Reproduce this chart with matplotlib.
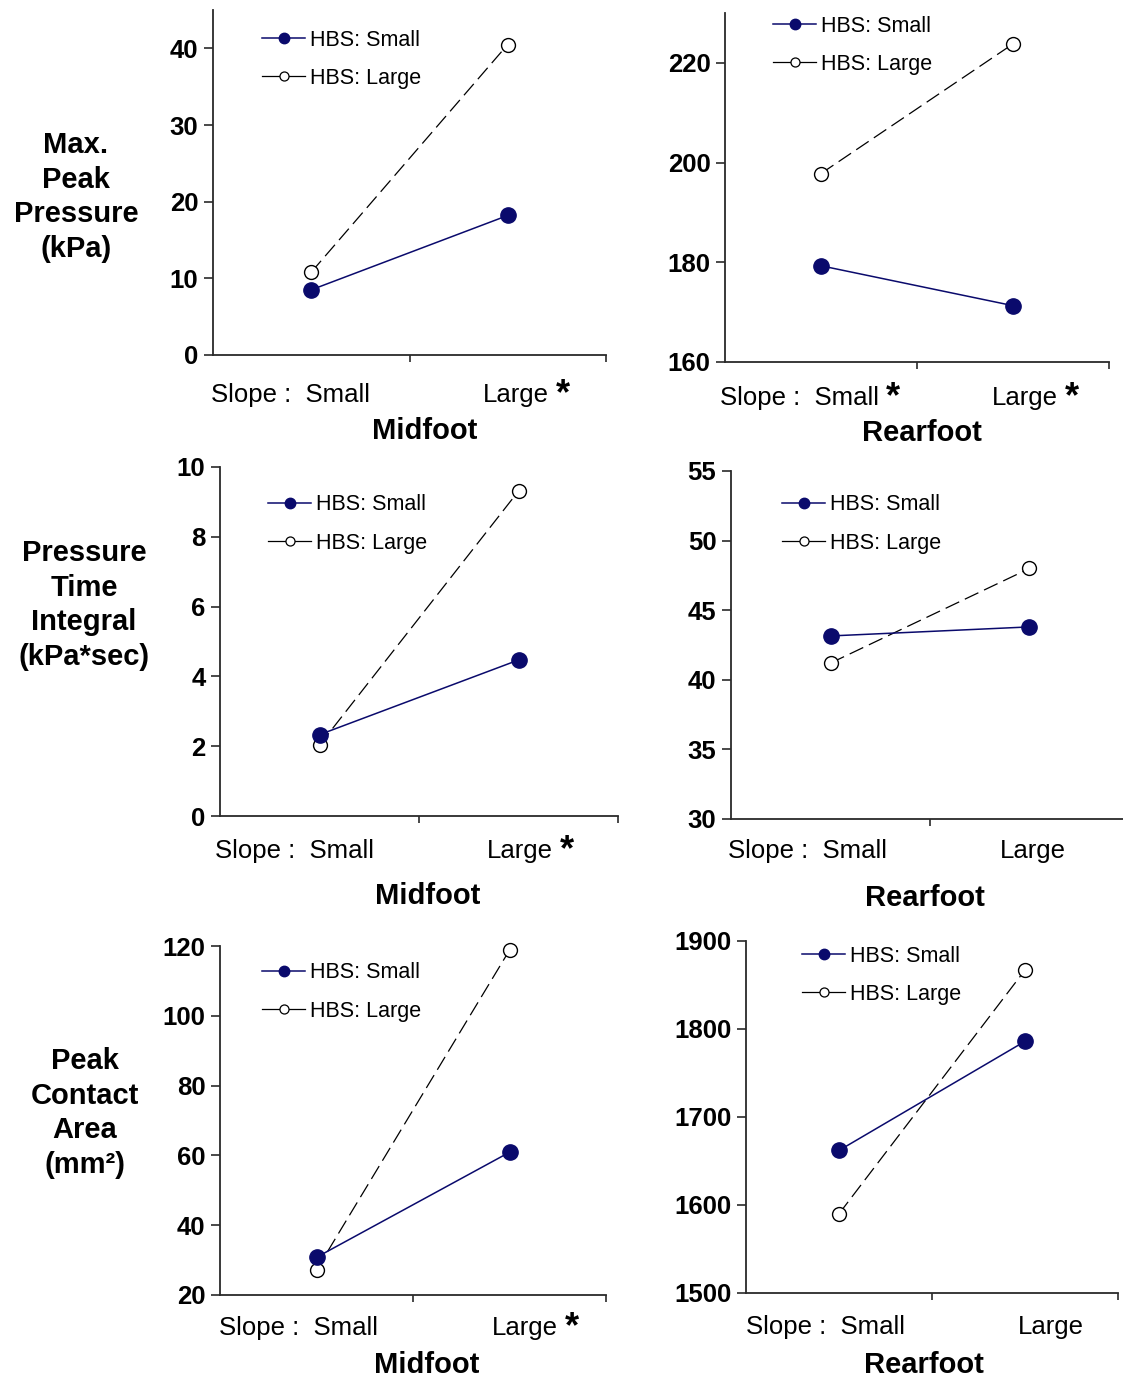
import matplotlib
matplotlib.use('Agg')
import matplotlib.pyplot as plt
from matplotlib.lines import Line2D

plt.rcParams['font.family'] = ['Liberation Sans', 'DejaVu Sans']

# figure size in pixels (dpi 100)
W, H = 1123, 1377

# ---- data: values for [slope Small, slope Large] ----
slope_cats = ['Small', 'Large']
series_names = ['HBS: Small', 'HBS: Large']

mid_peak_small = [8.5, 18.2]
mid_peak_large = [10.8, 40.5]
rear_peak_small = [179.3, 171.3]
rear_peak_large = [197.8, 223.8]

mid_pti_small = [2.33, 4.47]
mid_pti_large = [2.03, 9.31]
rear_pti_small = [43.15, 43.8]
rear_pti_large = [41.2, 48.0]

mid_area_small = [30.8, 60.9]
mid_area_large = [27.2, 118.8]
rear_area_small = [1662, 1786]
rear_area_large = [1590, 1867]

# significant slope effect (asterisk) per category
mid_peak_sig = [False, True]
rear_peak_sig = [True, True]
mid_pti_sig = [False, True]
rear_pti_sig = [False, False]
mid_area_sig = [False, True]
rear_area_sig = [False, False]

row_labels = ['Max.\nPeak\nPressure\n(kPa)',
              'Pressure\nTime\nIntegral\n(kPa*sec)',
              'Peak\nContact\nArea\n(mm²)']
row_label_pos = [(76, 197), (84, 605), (85, 1113)]

NAVY = '#0a0a6c'


def fx(px):
    return px / W


def fy(py):
    return 1 - py / H


# layout per panel: axes box (left, top, right, bottom) px, y range, ticks,
# legend anchor px, slope label left px, "Large" centre px, label baseline px,
# region title centre/baseline px
panels = [
    dict(title='Midfoot', small=mid_peak_small, large=mid_peak_large, sig=mid_peak_sig,
         box=(213, 10, 606, 355), ylim=(0, 45), yticks=[0, 10, 20, 30, 40],
         leg=(262, 40), slope_x=211, large_x=516, lab_y=402, tit=(425, 439)),
    dict(title='Rearfoot', small=rear_peak_small, large=rear_peak_large, sig=rear_peak_sig,
         box=(725, 13, 1109, 362), ylim=(160, 230), yticks=[160, 180, 200, 220],
         leg=(773, 26), slope_x=720, large_x=1025, lab_y=405, tit=(922, 441)),
    dict(title='Midfoot', small=mid_pti_small, large=mid_pti_large, sig=mid_pti_sig,
         box=(220, 467, 618, 816), ylim=(0, 10), yticks=[0, 2, 4, 6, 8, 10],
         leg=(268, 505), slope_x=215, large_x=520, lab_y=858, tit=(428, 904)),
    dict(title='Rearfoot', small=rear_pti_small, large=rear_pti_large, sig=rear_pti_sig,
         box=(731, 471, 1129, 819), ylim=(30, 55), yticks=[30, 35, 40, 45, 50, 55],
         leg=(782, 505), slope_x=728, large_x=1033, lab_y=858, tit=(925, 906)),
    dict(title='Midfoot', small=mid_area_small, large=mid_area_large, sig=mid_area_sig,
         box=(220, 946, 606, 1295), ylim=(20, 120), yticks=[20, 40, 60, 80, 100, 120],
         leg=(262, 973), slope_x=219, large_x=525, lab_y=1335, tit=(427, 1373)),
    dict(title='Rearfoot', small=rear_area_small, large=rear_area_large, sig=rear_area_sig,
         box=(746, 941, 1118, 1293), ylim=(1500, 1900), yticks=[1500, 1600, 1700, 1800, 1900],
         leg=(802, 956), slope_x=746, large_x=1051, lab_y=1334, tit=(924, 1373)),
]

fig = plt.figure(figsize=(W / 100, H / 100), dpi=100)
fig.patch.set_facecolor('white')

x = [0.5, 1.5]
for p in panels:
    l, t, r, b = p['box']
    ax = fig.add_axes([fx(l), fy(b), (r - l) / W, (b - t) / H])
    ax.set_xlim(0, 2)
    ax.set_ylim(*p['ylim'])
    ax.set_yticks(p['yticks'])
    ax.set_xticks([1, 2])
    ax.set_xticklabels([])
    for s in ['top', 'right']:
        ax.spines[s].set_visible(False)
    for s in ['left', 'bottom']:
        ax.spines[s].set_color('#2a2a2a')
        ax.spines[s].set_linewidth(1.3)
        ax.spines[s].set_clip_on(False)
    ax.tick_params(axis='y', direction='out', length=6.5, width=1.2, color='#2a2a2a',
                   pad=4, labelsize=18.5)
    ax.tick_params(axis='x', direction='out', length=5, width=1.2, color='#2a2a2a')
    for lab in ax.get_yticklabels():
        lab.set_fontweight('bold')

    ax.plot(x, p['small'], color=NAVY, lw=1.1, marker='o', ms=11,
            markerfacecolor=NAVY, markeredgecolor=NAVY, zorder=3, clip_on=False)
    ax.plot(x, p['large'], color='black', lw=0.9, dashes=(12, 5), marker='o', ms=10,
            markerfacecolor='white', markeredgecolor='black', markeredgewidth=1.0,
            zorder=2, clip_on=False)

    handles = [
        Line2D([], [], color=NAVY, lw=1.1, marker='o', ms=7.5, markerfacecolor=NAVY,
               markeredgecolor=NAVY),
        Line2D([], [], color='black', lw=0.9, marker='o', ms=6.5, markerfacecolor='white',
               markeredgecolor='black', markeredgewidth=0.9),
    ]
    lx, ly = p['leg']
    ax.legend(handles, series_names, loc='upper left',
              bbox_to_anchor=(fx(lx), fy(ly - 10.5)), bbox_transform=fig.transFigure,
              frameon=False, fontsize=15.5, handlelength=2.0, handletextpad=0.25,
              labelspacing=0.8, borderpad=0, borderaxespad=0, numpoints=1)

    # category labels under the x axis
    small_txt = fig.text(fx(p['slope_x']), fy(p['lab_y']), 'Slope :  ' + slope_cats[0],
                         ha='left', va='baseline', fontsize=18.5)
    large_txt = fig.text(fx(p['large_x']), fy(p['lab_y']), slope_cats[1],
                         ha='center', va='baseline', fontsize=18.5)
    for txt, sig in zip([small_txt, large_txt], p['sig']):
        if sig:
            ax.annotate('*', xy=(1, 1), xycoords=txt, xytext=(5, 4.5),
                        textcoords='offset points', ha='left', va='top',
                        fontsize=26, fontweight='bold', annotation_clip=False)

    tx, ty = p['tit']
    fig.text(fx(tx), fy(ty), p['title'], ha='center', va='baseline',
             fontsize=21, fontweight='bold')

for lab, (px, py) in zip(row_labels, row_label_pos):
    fig.text(fx(px), fy(py), lab, ha='center', va='center', multialignment='center',
             fontsize=21, fontweight='bold', linespacing=1.3)

fig.savefig('out.png', dpi=100, facecolor='white')
